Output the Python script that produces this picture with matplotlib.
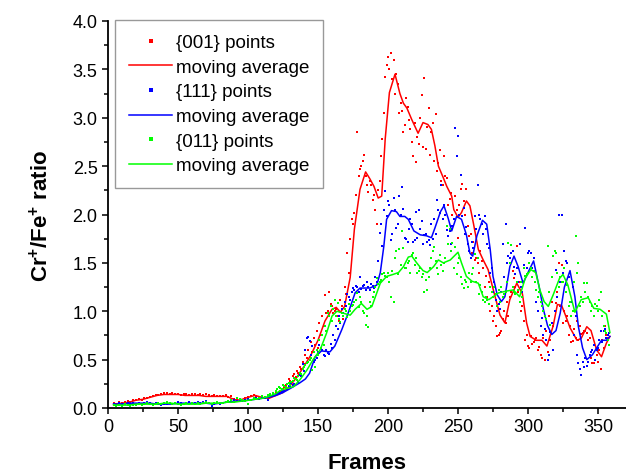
import numpy as np
import matplotlib
matplotlib.use("Agg")
import matplotlib.pyplot as plt

plt.rcParams['font.family'] = ['Liberation Sans', 'DejaVu Sans']
plt.rcParams['mathtext.fontset'] = 'custom'
plt.rcParams['mathtext.rm'] = 'Liberation Sans:bold'
plt.rcParams['mathtext.default'] = 'rm'

# ---------------- data ----------------
even_frames = np.arange(4, 359, 2)
odd_frames = np.arange(121, 358, 2)

red_points_even = (
    [0.05,0.04,0.06,0.05,0.06,0.07,0.06,0.08,0.08] +
    [0.09,0.08,0.10,0.10,0.11,0.12,0.13,0.13,0.14,0.15] +
    [0.15,0.14,0.15,0.14,0.14,0.13,0.14,0.14,0.13,0.14] +
    [0.14,0.13,0.14,0.13,0.14,0.13,0.12,0.13,0.12,0.12] +
    [0.12,0.13,0.11,0.12,0.09,0.08,0.09,0.08,0.10,0.11] +
    [0.12,0.13,0.12,0.11,0.10,0.11,0.12,0.13,0.14,0.16] +
    [0.17,0.19,0.22,0.25,0.28,0.33,0.32,0.36,0.40,0.45] +
    [0.52,0.50,0.58,0.65,0.62,0.75,0.85,0.98,1.20,1.05] +
    [1.00,0.95,1.12,0.92,1.18,1.40,1.95,2.02,2.85,2.47] +
    [2.55,2.40,2.23,2.30,2.20,1.90,2.35,2.78,3.42,3.63] +
    [3.67,3.60,3.45,3.05,3.07,2.93,3.11,2.88,2.60,2.54] +
    [2.73,3.24,3.41,2.90,2.62,2.95,3.04,2.53,2.35,2.60] +
    [2.38,2.16,2.00,2.19,1.76,2.26,2.14,2.26,1.78,1.60] +
    [1.53,1.50,1.62,1.45,1.36,1.30,1.05,0.95,0.74,0.78] +
    [0.92,0.88,0.95,1.20,1.34,1.67,1.30,1.05,0.70,0.64] +
    [0.74,0.68,0.72,0.63,0.52,0.50,0.58,0.70,0.85,1.09] +
    [1.50,1.48,1.00,0.95,0.85,0.69,0.72,0.70,0.76,0.80] +
    [0.78,0.72,0.46,0.50,0.48,0.40,0.62,0.75,1.00]
)
red_points_odd = (
    [0.15,0.18,0.20,0.24,0.30,0.27,0.35,0.38,0.42,0.48] +
    [0.55,0.60,0.68,0.72,0.80,0.88,0.95,1.17,1.00,1.08] +
    [0.98,1.02,0.90,1.05,1.25,1.60,1.75,1.90,2.20,2.40] +
    [2.50,2.62,2.30,2.35,2.15,2.05,2.25,2.60,3.05,3.55] +
    [3.50,3.40,3.25,3.35,3.15,2.85,3.20,2.98,2.75,2.95] +
    [2.80,3.00,2.70,2.68,3.10,2.85,2.55,2.45,2.67,2.30] +
    [2.40,2.10,2.22,1.95,2.05,2.10,2.32,2.00,1.88,1.80] +
    [1.72,1.55,1.40,1.52,1.25,1.15,1.00,0.90,0.85,0.75] +
    [0.80,1.00,1.10,1.15,1.42,1.25,1.20,1.00,0.90,0.75] +
    [0.62,0.66,0.70,0.60,0.55,0.72,0.80,0.95,1.10,1.00] +
    [1.20,1.05,0.88,0.90,0.75,0.68,0.82,0.90,0.85,0.78] +
    [0.80,0.70,0.52,0.47,0.55,0.60,0.70,0.85,0.72]
)

blue_points_even = (
    [0.04,0.03,0.05,0.04,0.04,0.05,0.04,0.05,0.04] +
    [0.05,0.04,0.05,0.06,0.05,0.04,0.05,0.04,0.03,0.04] +
    [0.04,0.05,0.04,0.05,0.06,0.05,0.04,0.05,0.06,0.05] +
    [0.05,0.06,0.05,0.06,0.07,0.05,0.02,0.04,0.05,0.04] +
    [0.05,0.06,0.07,0.06,0.08,0.07,0.08,0.07,0.08,0.09] +
    [0.08,0.09,0.10,0.09,0.11,0.10,0.08,0.12,0.13,0.14] +
    [0.15,0.17,0.18,0.20,0.22,0.24,0.30,0.27,0.33,0.38] +
    [0.72,0.69,0.64,0.50,0.58,0.62,0.55,0.60,0.56,0.62] +
    [0.70,0.82,0.88,0.98,1.05,1.15,1.20,1.22,1.25,1.35] +
    [1.26,1.22,1.25,1.28,1.24,1.30,1.81,1.67,2.24,2.14] +
    [1.74,2.17,1.86,2.19,2.28,1.76,1.72,1.95,1.72,2.03] +
    [2.05,1.93,1.79,1.72,1.68,1.75,1.80,2.05,2.31,2.10] +
    [1.84,1.83,1.88,2.89,2.81,2.41,2.07,1.87,1.62,1.72] +
    [1.98,2.30,1.95,1.80,1.85,1.65,1.45,1.30,1.00,1.02] +
    [1.69,1.90,1.57,1.60,1.46,1.45,1.69,1.20,1.86,1.60] +
    [1.60,1.55,1.10,1.20,0.93,0.82,0.50,0.79,0.60,1.43] +
    [2.00,2.00,1.62,1.50,1.40,1.25,0.95,0.46,0.34,0.42] +
    [0.43,0.55,0.60,0.50,0.62,0.80,0.80,0.72,0.78]
)
blue_points_odd = (
    [0.14,0.16,0.19,0.21,0.23,0.26,0.25,0.29,0.34,0.45] +
    [0.60,0.73,0.55,0.48,0.52,0.65,0.60,0.54,0.57,0.66] +
    [0.75,0.85,0.95,1.02,1.10,1.18,1.12,1.24,1.26,1.20] +
    [1.23,1.27,1.30,1.22,1.26,1.35,1.52,1.90,2.05,1.98] +
    [2.10,1.80,2.05,1.90,2.00,2.06,1.75,1.85,1.90,1.74] +
    [1.76,1.85,1.70,1.80,1.74,1.90,1.95,2.15,2.02,1.95] +
    [2.00,1.78,1.70,1.95,2.60,2.00,1.98,1.80,1.70,1.55] +
    [1.65,1.85,2.00,1.90,1.98,1.70,1.40,1.20,1.12,1.08] +
    [1.20,1.35,1.50,1.55,1.62,1.38,1.30,1.25,1.48,1.45] +
    [1.62,1.45,1.30,1.00,0.85,0.75,0.70,0.55,0.88,1.00] +
    [1.15,1.30,1.40,1.52,1.35,1.10,0.75,0.55,0.40,0.48] +
    [0.52,0.48,0.58,0.65,0.60,0.70,0.68,0.82,0.75]
)

green_points_even = (
    [0.03,0.02,0.03,0.02,0.04,0.03,0.02,0.03,0.03] +
    [0.04,0.03,0.04,0.05,0.04,0.03,0.04,0.05,0.04,0.05] +
    [0.06,0.05,0.04,0.05,0.04,0.03,0.04,0.05,0.04,0.05] +
    [0.04,0.05,0.04,0.05,0.06,0.05,0.04,0.05,0.06,0.05] +
    [0.05,0.06,0.07,0.08,0.06,0.10,0.09,0.08,0.07,0.04] +
    [0.08,0.10,0.09,0.10,0.12,0.11,0.13,0.14,0.16,0.18] +
    [0.22,0.20,0.23,0.25,0.24,0.28,0.30,0.33,0.35,0.42] +
    [0.46,0.50,0.39,0.42,0.55,0.62,0.65,0.80,0.95,0.90] +
    [1.12,1.09,0.89,0.95,1.00,1.08,1.05,1.10,1.19,1.15] +
    [1.00,0.86,0.84,1.05,1.20,1.34,1.30,1.38,1.36,1.40] +
    [1.15,1.10,1.62,1.64,1.83,1.45,1.50,1.40,1.60,1.55] +
    [1.42,1.35,1.20,1.22,1.45,1.62,1.52,1.38,1.48,1.50] +
    [1.88,1.85,1.71,1.66,1.50,1.35,1.24,1.30,1.40,1.38] +
    [1.59,1.55,1.27,1.12,1.15,1.08,1.20,1.25,1.05,1.10] +
    [1.15,1.20,1.71,1.68,1.20,1.30,1.10,1.15,1.36,1.40] +
    [1.45,1.42,1.22,1.20,1.05,0.95,1.67,0.86,1.57,1.60] +
    [1.25,1.30,1.45,1.27,1.10,1.00,1.78,1.50,1.15,1.29] +
    [1.29,1.10,1.05,1.08,1.00,1.20,0.85,0.78,0.65]
)
green_points_odd = (
    [0.20,0.21,0.24,0.22,0.26,0.27,0.31,0.29,0.36,0.40] +
    [0.44,0.48,0.52,0.58,0.60,0.70,0.75,0.85,0.98,1.05] +
    [1.02,0.95,0.92,0.98,1.02,0.94,1.00,1.06,1.12,1.04] +
    [1.10,0.98,0.95,1.10,1.15,1.25,1.28,1.32,1.40,1.35] +
    [1.30,1.42,1.55,1.38,1.48,1.65,1.45,1.52,1.58,1.48] +
    [1.40,1.45,1.38,1.32,1.35,1.55,1.66,1.45,1.58,1.42] +
    [1.55,1.70,1.62,1.45,1.38,1.55,1.28,1.32,1.25,1.30] +
    [1.45,1.30,1.18,1.20,1.10,1.12,1.25,1.15,1.18,1.22] +
    [1.25,1.18,1.30,1.50,1.25,1.18,1.22,1.30,1.45,1.38] +
    [1.50,1.35,1.30,1.15,1.10,1.00,0.92,1.20,1.35,1.62] +
    [1.40,1.35,1.30,1.20,1.05,0.95,1.30,1.40,1.05,1.10] +
    [1.20,1.15,1.00,0.95,1.05,1.12,0.95,0.80,0.70]
)

red_ma_frames = [4,10,15,20,25,30,35,40,45,50,55,60,65,70,75,80,85,88,92,96,100,105,110,115,120,
                 125,130,135,140,145,150,155,160,163,166,169,171,173,176,180,184,187,190,193,195.5,
                 198,201,205,208.5,211,213.5,217,221.5,225,228.5,231,233.5,236,239.5,242,245.5,247,
                 250,252.5,256,258.5,261,264.5,268,271.5,274,276.5,280,283.5,287,292,296,299,301.5,
                 306,310,313.5,318,321,324,327,330,335,338,342,345,349,352.5,356,358.5]
red_ma = [0.04,0.05,0.06,0.08,0.09,0.11,0.13,0.14,0.14,0.14,0.13,0.13,0.13,0.12,0.12,0.12,0.12,0.10,
          0.08,0.09,0.11,0.13,0.11,0.10,0.13,0.16,0.23,0.32,0.43,0.55,0.70,0.90,1.02,1.04,0.99,1.05,
          1.20,1.35,1.85,2.26,2.44,2.37,2.29,2.17,2.19,2.78,3.26,3.45,3.25,3.15,3.10,2.98,2.84,2.95,
          2.93,2.88,2.71,2.50,2.38,2.29,2.19,2.05,1.97,2.02,2.14,2.09,1.91,1.64,1.53,1.43,1.29,1.15,
          0.96,0.88,1.12,1.29,1.18,0.88,0.74,0.70,0.70,0.64,0.85,1.07,1.06,0.95,0.83,0.70,0.72,0.84,
          0.80,0.60,0.53,0.67,0.74]

blue_ma_frames = [4,10,15,20,25,30,35,40,45,50,55,60,65,70,75,80,85,90,95,100,105,110,115,120,125,
                  130,137,141,144,148,152.5,158.5,162,167,171.5,176.5,180,187,192,194.5,197,199,
                  202.5,206,208.5,212,214.5,218.5,223,227.5,231,233.5,237.5,240,243,245.5,249,252.5,
                  256,258.5,260.5,263.5,267.5,270.5,273,275,278,281,283.5,287,290,293,296.5,300,304,
                  308,311,314,317,320,323,326,330,333.5,336,339,342,346,349,352.5,356,358.5]
blue_ma = [0.04,0.04,0.05,0.05,0.05,0.05,0.04,0.04,0.04,0.05,0.05,0.05,0.05,0.05,0.04,0.05,0.06,0.07,
           0.07,0.08,0.09,0.10,0.11,0.13,0.16,0.20,0.26,0.30,0.36,0.53,0.59,0.58,0.64,0.81,0.98,1.19,
           1.24,1.24,1.27,1.40,1.67,1.95,2.04,2.03,1.98,1.98,1.95,1.83,1.79,1.78,1.76,1.86,2.03,2.09,
           1.96,1.83,1.98,1.95,1.79,1.60,1.57,1.78,1.94,1.90,1.64,1.36,1.17,1.10,1.15,1.46,1.57,1.46,
           1.29,1.40,1.52,1.25,1.02,0.85,0.76,0.80,0.98,1.25,1.42,1.15,0.84,0.62,0.50,0.55,0.62,0.70,
           0.70,0.74]

green_ma_frames = [4,10,15,20,25,30,35,40,45,50,55,60,65,70,75,80,85,90,95,100,105,110,115,120,123,
                   127,132.5,137,142,146.5,151.5,156,160,163.5,168,173,176.5,181,185,188.5,192,194.5,
                   199,203.5,207.5,211,214.5,217,220.5,225,228,232.5,236,239.5,244.5,250,252.5,256,
                   260,264.5,268,272,275,279,285,289.5,294,298,302,305.5,308.5,311.5,314.5,318,322.5,
                   325,328.5,333.5,338,343,347,351.5,356,358.5]
green_ma = [0.03,0.03,0.03,0.04,0.04,0.04,0.04,0.05,0.05,0.04,0.04,0.04,0.04,0.05,0.05,0.05,0.06,0.06,
            0.07,0.08,0.09,0.10,0.12,0.15,0.18,0.20,0.22,0.29,0.39,0.50,0.60,0.77,0.95,1.00,0.98,0.96,
            1.02,1.08,1.02,1.05,1.19,1.29,1.36,1.38,1.40,1.46,1.56,1.57,1.50,1.42,1.40,1.46,1.53,1.50,
            1.53,1.61,1.50,1.36,1.31,1.29,1.15,1.12,1.15,1.19,1.21,1.22,1.15,1.34,1.43,1.40,1.22,1.10,
            1.05,1.17,1.34,1.38,1.27,0.99,1.12,1.14,1.03,1.02,0.97,0.78]

series_labels = ['{001} points', 'moving average', '{111} points', 'moving average',
                 '{011} points', 'moving average']
x_ticks = [0, 50, 100, 150, 200, 250, 300, 350]
y_ticks = [0.0, 0.5, 1.0, 1.5, 2.0, 2.5, 3.0, 3.5, 4.0]

# ---------------- plot ----------------
fig = plt.figure(figsize=(6.26, 4.77), dpi=100)
ax = fig.add_axes([108/626, 1 - 409/477, 1 - 108/626, (409 - 22)/477])

colors = ['#ff0000', '#0000ff', '#00ff00']
pts = [(red_points_even, red_points_odd), (blue_points_even, blue_points_odd),
       (green_points_even, green_points_odd)]
mas = [(red_ma_frames, red_ma), (blue_ma_frames, blue_ma), (green_ma_frames, green_ma)]
handles = []
for i in range(3):
    fr = np.concatenate([even_frames, odd_frames])
    vals = np.concatenate([pts[i][0], pts[i][1]])
    order = np.argsort(fr)
    h1, = ax.plot(fr[order], vals[order], linestyle='none', marker='s', ms=2.0, mew=0,
                  color=colors[i], label=series_labels[2*i])
    h2, = ax.plot(mas[i][0], mas[i][1], color=colors[i], lw=1.1, label=series_labels[2*i+1])
    handles += [h1, h2]

ax.set_xlim(0, 370)
ax.set_ylim(0, 4.0)
ax.set_xticks(x_ticks)
ax.set_yticks(y_ticks)
ax.set_xticks(np.arange(25, 370, 50), minor=True)
ax.set_yticks(np.arange(0.25, 4.0, 0.5), minor=True)
ax.set_yticklabels([f'{v:.1f}' for v in y_ticks])
ax.tick_params(axis='both', which='major', direction='out', length=4.5, width=1.1,
               labelsize=13, pad=3)
ax.tick_params(axis='both', which='minor', direction='out', length=2.8, width=1.1)
for s in ['top', 'right']:
    ax.spines[s].set_visible(False)
for s in ['left', 'bottom']:
    ax.spines[s].set_linewidth(1.3)

ax.set_xlabel('Frames', fontsize=16, fontweight='bold', labelpad=12)
ax.set_ylabel('Cr$^{+}$/Fe$^{+}$ ratio', fontsize=16, fontweight='bold', labelpad=14)

leg = ax.legend(handles=handles, loc='upper left', bbox_to_anchor=(115/626, 1 - 21/477),
                bbox_transform=fig.transFigure, fontsize=13.5, frameon=True, fancybox=False,
                numpoints=1, handlelength=2.3, handletextpad=0.2, labelspacing=0.4,
                borderpad=0.75, borderaxespad=0, markerscale=1.3)
leg.get_frame().set_edgecolor('#808080')
leg.get_frame().set_linewidth(1.0)

fig.savefig('out.png', dpi=100)
